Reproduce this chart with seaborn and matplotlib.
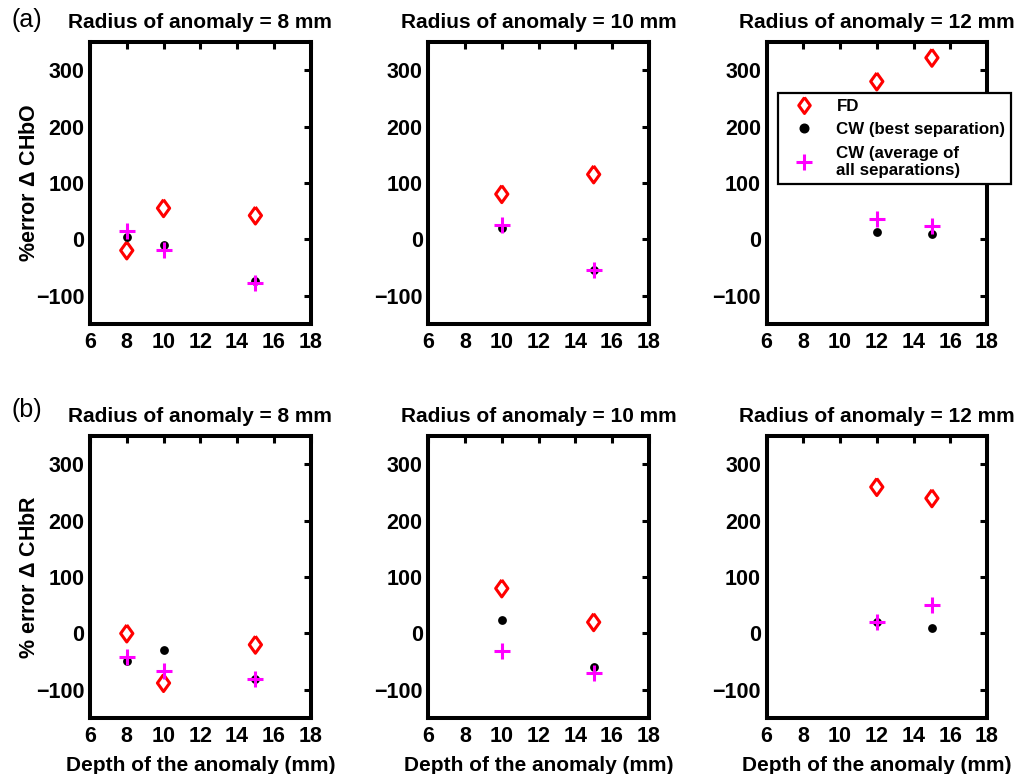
import numpy as np
import pandas as pd
import seaborn as sns
import matplotlib
matplotlib.use("Agg")
import matplotlib.pyplot as plt
from matplotlib.lines import Line2D

# ---------------- data ----------------
radii = [8, 10, 12]
depths_r8 = [8, 10, 15]
depths_r10 = [10, 15]
depths_r12 = [12, 15]

# (a) % error in delta CHbO
hbo_fd_r8 = [-20, 55, 42]
hbo_cwbest_r8 = [3, -10, -75]
hbo_cwavg_r8 = [15, -20, -78]
hbo_fd_r10 = [80, 115]
hbo_cwbest_r10 = [20, -55]
hbo_cwavg_r10 = [25, -55]
hbo_fd_r12 = [280, 322]
hbo_cwbest_r12 = [12, 10]
hbo_cwavg_r12 = [35, 23]

# (b) % error in delta CHbR
hbr_fd_r8 = [0, -88, -20]
hbr_cwbest_r8 = [-48, -30, -80]
hbr_cwavg_r8 = [-42, -66, -80]
hbr_fd_r10 = [80, 20]
hbr_cwbest_r10 = [24, -60]
hbr_cwavg_r10 = [-32, -70]
hbr_fd_r12 = [260, 240]
hbr_cwbest_r12 = [20, 10]
hbr_cwavg_r12 = [20, 50]

series_labels = ["FD", "CW (best separation)", "CW (average of\nall separations)"]
row_ylabels = ["%error $\\Delta$ CHbO", "% error $\\Delta$ CHbR"]
row_tags = ["(a)", "(b)"]
xticks = [6, 8, 10, 12, 14, 16, 18]
yticks = [-100, 0, 100, 200, 300]
ytick_labels = ["\u2212100", "0", "100", "200", "300"]

panels = [
    [(depths_r8, hbo_fd_r8, hbo_cwbest_r8, hbo_cwavg_r8),
     (depths_r10, hbo_fd_r10, hbo_cwbest_r10, hbo_cwavg_r10),
     (depths_r12, hbo_fd_r12, hbo_cwbest_r12, hbo_cwavg_r12)],
    [(depths_r8, hbr_fd_r8, hbr_cwbest_r8, hbr_cwavg_r8),
     (depths_r10, hbr_fd_r10, hbr_cwbest_r10, hbr_cwavg_r10),
     (depths_r12, hbr_fd_r12, hbr_cwbest_r12, hbr_cwavg_r12)],
]

# ---------------- style ----------------
sns.set_theme(style="white")
plt.rcParams["font.family"] = ["Liberation Sans", "DejaVu Sans"]
plt.rcParams["font.weight"] = "bold"
plt.rcParams["axes.labelweight"] = "bold"
plt.rcParams["axes.titleweight"] = "bold"
plt.rcParams["mathtext.default"] = "regular"
for k in ["text.color", "axes.labelcolor", "xtick.color", "ytick.color", "axes.edgecolor"]:
    plt.rcParams[k] = "black"

diamond = [(0, 1), (0.72, 0), (0, -1), (-0.72, 0), (0, 1)]

fig, axes = plt.subplots(2, 3, figsize=(10.16, 7.74), dpi=100)
fig.subplots_adjust(left=0.0886, right=0.9715, top=0.9457, bottom=0.0724,
                    hspace=0.40, wspace=0.534)

for r in range(2):
    for c in range(3):
        ax = axes[r, c]
        d, fd, cwb, cwa = panels[r][c]
        sns.scatterplot(x=d, y=fd, ax=ax, marker=diamond, s=150,
                        facecolor="none", edgecolor="red", linewidth=2.2,
                        zorder=3, legend=False)
        sns.scatterplot(x=d, y=cwb, ax=ax, marker="o", s=40,
                        color="black", edgecolor="black", linewidth=0,
                        zorder=4, legend=False)
        sns.scatterplot(x=d, y=cwa, ax=ax, marker="+", s=135,
                        color="magenta", linewidth=2.2,
                        zorder=5, legend=False)
        ax.set_xlim(6, 18)
        ax.set_ylim(-150, 350)
        ax.set_xticks(xticks)
        ax.set_yticks(yticks)
        ax.set_yticklabels(ytick_labels)
        ax.tick_params(direction="in", length=5, width=2.2, top=True, right=True,
                       labelsize=15.5, colors="black")
        ax.tick_params(axis="y", pad=4)
        ax.tick_params(axis="x", pad=6)
        for sp in ax.spines.values():
            sp.set_linewidth(2.9)
            sp.set_color("black")
            sp.set_visible(True)
        ax.set_title(f"Radius of anomaly = {radii[c]} mm", fontsize=15,
                     fontweight="bold", pad=10)
        if c == 0:
            ax.set_ylabel(row_ylabels[r], fontsize=15.5, fontweight="bold", labelpad=-3)
        if r == 1:
            ax.set_xlabel("Depth of the anomaly (mm)", fontsize=15,
                          fontweight="bold", labelpad=6)
    fig.text(0.011, [0.974, 0.470][r], row_tags[r], fontsize=18,
             fontweight="normal", va="center", ha="left")

handles = [
    Line2D([], [], linestyle="none", marker=diamond, markersize=11.5,
           markerfacecolor="none", markeredgecolor="red", markeredgewidth=2.2),
    Line2D([], [], linestyle="none", marker="o", markersize=6.2,
           markerfacecolor="black", markeredgecolor="black"),
    Line2D([], [], linestyle="none", marker="+", markersize=11.5,
           markeredgecolor="magenta", markeredgewidth=2.2),
]
leg = axes[0, 2].legend(handles, series_labels, loc="upper left",
                        bbox_to_anchor=(778 / 1016, 1 - 93 / 774),
                        bbox_transform=fig.transFigure, borderaxespad=0,
                        fontsize=12.2, frameon=True, fancybox=False,
                        handletextpad=0.7, labelspacing=0.5,
                        borderpad=0.35, handlelength=2.4)
leg.get_frame().set_edgecolor("black")
leg.get_frame().set_linewidth(1.6)
leg.get_frame().set_alpha(1)
leg.set_zorder(10)

fig.savefig("out.png", dpi=100)
